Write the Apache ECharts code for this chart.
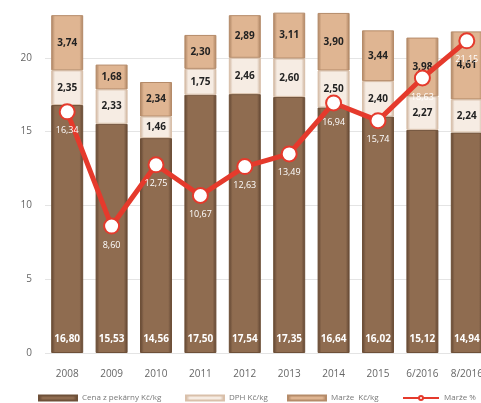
<!DOCTYPE html>
<html><head><meta charset="utf-8">
<script src="https://cdn.jsdelivr.net/npm/echarts@6/dist/echarts.min.js"></script>
<style>html,body{margin:0;padding:0;background:#fff;overflow:hidden;width:481px;height:403px}
#c{position:absolute;left:0;top:-16px;width:492px;height:419px}</style>
</head><body><div id="c"></div>
<script>
const categories = ['2008','2009','2010','2011','2012','2013','2014','2015','6/2016','8/2016'];
const cenaPekarny = [16.80,15.53,14.56,17.50,17.54,17.35,16.64,16.02,15.12,14.94];
const dph = [2.35,2.33,1.46,1.75,2.46,2.60,2.50,2.40,2.27,2.24];
const marzeKc = [3.74,1.68,2.34,2.30,2.89,3.11,3.90,3.44,3.98,4.61];
const marzePct = [16.34,8.60,12.75,10.67,12.63,13.49,16.94,15.74,18.63,21.15];
const yTicks = [0,5,10,15,20];
const legendNames = ['Cena z pekárny Kč/kg','DPH Kč/kg','Marže  Kč/kg','Marže %'];

const fmt = v => v.toFixed(2).replace('.', ',');
function hgrad(edge, mid){
  return {type:'linear',x:0,y:0,x2:1,y2:0,colorStops:[
    {offset:0,color:edge},{offset:0.12,color:mid},{offset:0.88,color:mid},{offset:1,color:edge}]};
}
const font = 'Open Sans, Noto Sans, sans-serif';
const legendLefts = [33,180,282,397];
const legends = legendNames.map((n,i)=>({
  left:legendLefts[i], top:405, itemWidth:i===3?36:38, itemHeight:5, itemGap:4,
  textStyle:{fontSize:8,color:'#777',fontFamily:font},
  data:[i===3?{name:n}:{name:n,icon:'rect'}]
}));
const chart = echarts.init(document.getElementById('c'));
chart.setOption({
  animation:false,
  grid:{left:45,width:444,top:0,bottom:50,containLabel:false},
  legend:legends,
  xAxis:{type:'category',data:categories,
    axisLine:{show:false},axisTick:{show:false},
    axisLabel:{color:'#666',fontSize:10,margin:16,fontFamily:font}},
  yAxis:{type:'value',min:0,max:25,interval:5,
    axisLine:{show:false},axisTick:{show:false},
    splitLine:{lineStyle:{color:'#e4e4e4'}},
    axisLabel:{color:'#666',fontSize:10,margin:13,fontFamily:font,
      formatter:v => yTicks.includes(v) ? String(v) : ''}},
  series:[
    {name:legendNames[0],type:'bar',stack:'a',barWidth:32,data:cenaPekarny,
      itemStyle:{color:hgrad('#5e4330','#8f6c50'),borderColor:'#6e5038',borderWidth:1},
      label:{show:true,position:'insideBottom',distance:9,formatter:p=>fmt(p.value),
        color:'#fff',fontSize:10,fontWeight:'bold',fontFamily:font}},
    {name:legendNames[1],type:'bar',stack:'a',data:dph,
      itemStyle:{color:hgrad('#c9ad96','#f6ece3'),borderColor:'#d9c0aa',borderWidth:1},
      label:{show:true,position:'inside',formatter:p=>fmt(p.value),
        color:'#222',fontSize:10,fontWeight:'bold',fontFamily:font}},
    {name:legendNames[2],type:'bar',stack:'a',data:marzeKc,
      itemStyle:{color:hgrad('#a9805f','#dfb592'),borderColor:'#b58b69',borderWidth:1},
      label:{show:true,position:'inside',formatter:p=>fmt(p.value),
        color:'#222',fontSize:10,fontWeight:'bold',fontFamily:font}},
    {name:legendNames[3],type:'line',data:marzePct,z:5,
      lineStyle:{color:'#e53a2c',width:5},
      itemStyle:{color:'#fff',borderColor:'#e53a2c',borderWidth:2},
      symbol:'circle',symbolSize:15,
      label:{show:true,position:'bottom',distance:6,formatter:p=>fmt(p.value),
        color:'#fff',fontSize:9,fontFamily:font}}
  ]
});
</script></body></html>
